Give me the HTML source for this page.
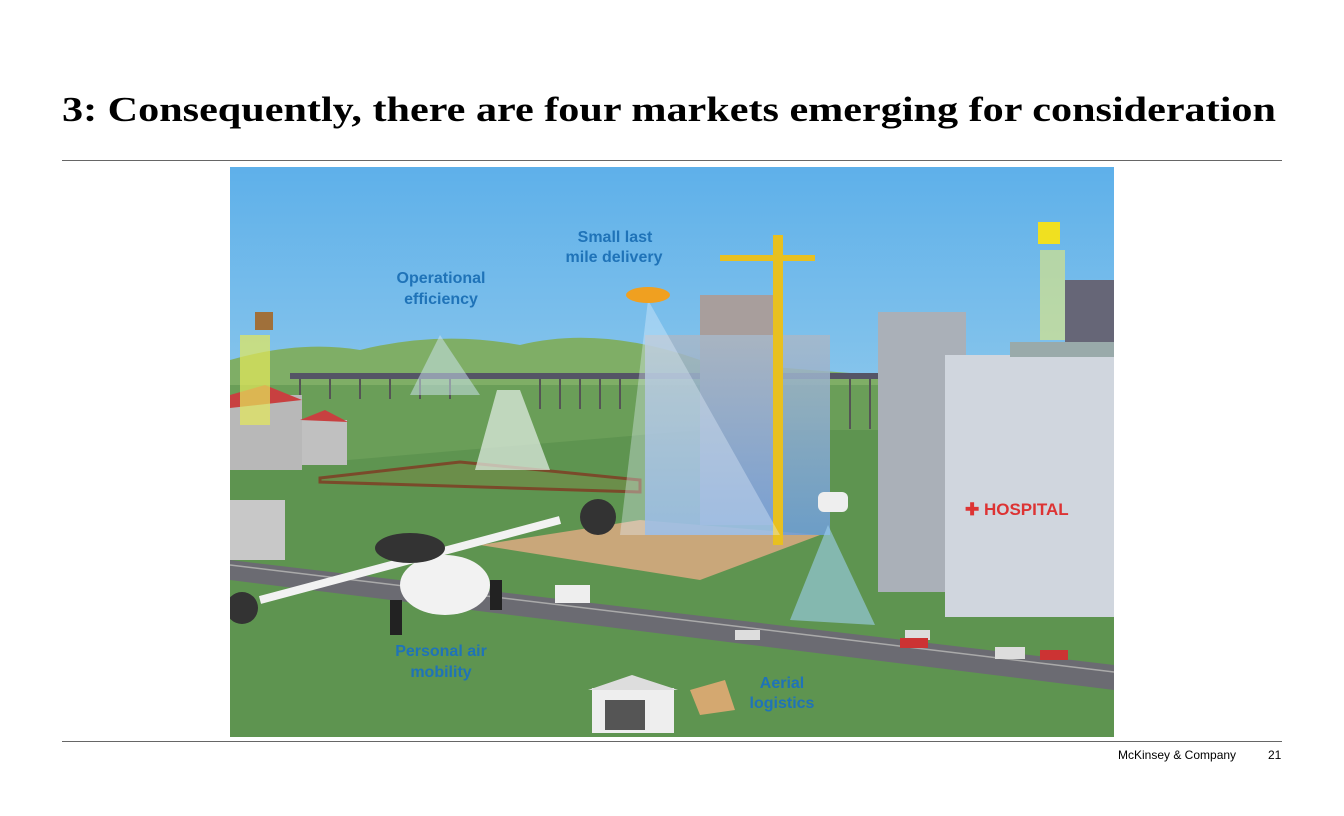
<!DOCTYPE html>
<html><head><meta charset="utf-8"><style>
body{margin:0;width:1344px;height:816px;background:#fff;overflow:hidden;position:relative;font-family:"Liberation Sans",sans-serif}
.t{position:absolute;left:62px;top:90px;font-family:"Liberation Serif",serif;font-weight:bold;font-size:35px;color:#000;white-space:nowrap;transform:scaleX(1.205);transform-origin:0 0}
.hr{position:absolute;left:62px;width:1220px;height:1px;background:#666}
.f{position:absolute;top:748px;font-size:12px;color:#000}
</style></head><body>
<div class="t">3: Consequently, there are four markets emerging for consideration</div>
<div class="hr" style="top:160px"></div>
<div class="hr" style="top:741px"></div>
<div class="f" style="left:1118px">McKinsey &amp; Company</div>
<div class="f" style="left:1268px">21</div>
<svg style="position:absolute;left:0;top:0" width="1344" height="816">
<defs>
<linearGradient id="sky" x1="0" y1="0" x2="0" y2="1"><stop offset="0" stop-color="#5eb0ea"/><stop offset="1" stop-color="#c8e6ee"/></linearGradient>
<linearGradient id="gl" x1="0" y1="0" x2="0" y2="1"><stop offset="0" stop-color="#a8b8c8"/><stop offset="1" stop-color="#6f9fdc"/></linearGradient>
<clipPath id="c"><rect x="230" y="167" width="884" height="570"/></clipPath>
</defs>
<g clip-path="url(#c)">
<rect x="230" y="167" width="884" height="570" fill="url(#sky)"/>
<path d="M230 360 Q300 340 360 350 Q440 330 520 345 Q600 325 700 360 Q800 370 880 375 L1114 375 L1114 737 L230 737Z" fill="#7fae66"/>
<rect x="230" y="385" width="884" height="352" fill="#6a9e58"/>
<path d="M230 470 L700 430 L1114 430 L1114 737 L230 737Z" fill="#5e9450"/>
<rect x="290" y="373" width="590" height="6" fill="#556"/>
<g stroke="#555" stroke-width="2"><path d="M300 379v20M330 379v20M360 379v20M390 379v20M420 379v20M450 379v20M540 379v30M560 379v30M580 379v30M600 379v30M620 379v30M850 379v50M870 379v50"/></g>
<path d="M320 478 L460 462 L640 480 L640 492 L320 482Z" fill="#6b8e4a" stroke="#7a4a2a" stroke-width="3"/>
<path d="M480 545 L640 520 L820 535 L700 580 Z" fill="#c9a77a"/>
<path d="M230 560 L1114 665 L1114 690 L230 580Z" fill="#6b6b72"/>
<path d="M230 565 L1114 672" stroke="#aaa" stroke-width="1.5"/>
<rect x="230" y="395" width="72" height="75" fill="#b8b8b8"/><path d="M230 395 L265 385 L302 400 L230 408Z" fill="#c84040"/>
<rect x="302" y="420" width="45" height="45" fill="#c0c0c0"/><path d="M300 420 L325 410 L348 422Z" fill="#c84040"/>
<rect x="230" y="500" width="55" height="60" fill="#c8c8c8"/>
<rect x="700" y="295" width="75" height="230" fill="#a89e9c"/>
<rect x="645" y="335" width="185" height="200" fill="url(#gl)" opacity="0.85"/>
<rect x="773" y="235" width="10" height="310" fill="#e8c020"/><rect x="720" y="255" width="95" height="6" fill="#e8c020"/>
<path d="M648 300 L620 535 L780 535Z" fill="#e8f4ff" opacity="0.35"/>
<rect x="878" y="312" width="88" height="280" fill="#aab0b8"/>
<rect x="945" y="355" width="169" height="262" fill="#d0d6de"/>
<rect x="1010" y="342" width="104" height="15" fill="#9aa"/>
<rect x="1065" y="280" width="49" height="62" fill="#667"/>
<text x="965" y="515" font-family="Liberation Sans" font-weight="bold" font-size="17" fill="#d33">✚ HOSPITAL</text>
<path d="M828 525 L790 620 L875 625Z" fill="#9fd0ee" opacity="0.6"/>
<rect x="818" y="492" width="30" height="20" rx="6" fill="#eee"/>
<path d="M440 335 L410 395 L480 395Z" fill="#cfe6f4" opacity="0.5"/>
<path d="M497 390 L475 470 L550 470 L520 390Z" fill="#e6efe8" opacity="0.7"/>
<rect x="255" y="312" width="18" height="18" fill="#a0703a"/>
<path d="M240 335h30v90h-30z" fill="#e4e85a" opacity="0.7"/>
<rect x="1038" y="222" width="22" height="22" fill="#f0e020"/><path d="M1040 250h25v90h-25z" fill="#e4ea7a" opacity="0.6"/>
<ellipse cx="648" cy="295" rx="22" ry="8" fill="#f0a020"/>
<ellipse cx="445" cy="585" rx="45" ry="30" fill="#f2f2f2"/>
<path d="M260 600 L560 520" stroke="#f2f2f2" stroke-width="8"/>
<ellipse cx="410" cy="548" rx="35" ry="15" fill="#333"/>
<circle cx="598" cy="517" r="18" fill="#333"/><circle cx="242" cy="608" r="16" fill="#333"/>
<rect x="390" y="600" width="12" height="35" fill="#222"/><rect x="490" y="580" width="12" height="30" fill="#222"/>
<rect x="555" y="585" width="35" height="18" fill="#eee"/>
<g fill="#ddd"><rect x="735" y="630" width="25" height="10"/><rect x="905" y="630" width="25" height="10"/><rect x="995" y="647" width="30" height="12"/></g>
<g fill="#c33"><rect x="900" y="638" width="28" height="10"/><rect x="1040" y="650" width="28" height="10"/></g>
<rect x="592" y="688" width="82" height="45" fill="#eee"/><path d="M588 690 L632 675 L678 690Z" fill="#ddd"/><rect x="605" y="700" width="40" height="30" fill="#555"/>
<path d="M690 690 L725 680 L735 710 L700 715Z" fill="#d4a870"/>
<g font-family="Liberation Sans" font-weight="bold" font-size="16" fill="#1f73b8" text-anchor="middle">
<text x="615" y="242">Small last</text><text x="614" y="262">mile delivery</text>
<text x="441" y="283">Operational</text><text x="441" y="304">efficiency</text>
<text x="441" y="656">Personal air</text><text x="441" y="677">mobility</text>
<text x="782" y="688">Aerial</text><text x="782" y="708">logistics</text>
</g>
</g>
</svg>
</body></html>
